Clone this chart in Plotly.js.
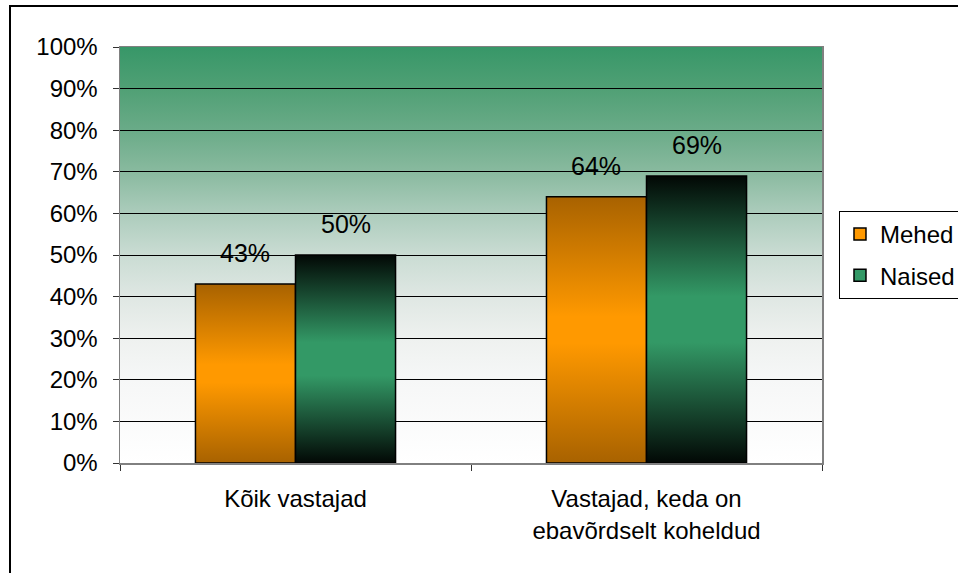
<!DOCTYPE html>
<html>
<head>
<meta charset="utf-8">
<script src="https://cdn.plot.ly/plotly-3.0.1.min.js"></script>
<style>
  body { margin: 0; background: #fff; overflow: hidden; }
  #chart { width: 958px; height: 573px; }
  /* raam ümber kogu joonise */
  #frame { position: absolute; left: 9px; top: 5px; width: 1000px; height: 1000px;
           border: 2px solid #000; pointer-events: none; }
</style>
</head>
<body>
<div id="chart"></div>
<div id="frame"></div>
<script>
const categories = ["Kõik vastajad", "Vastajad, keda on<br>ebavõrdselt koheldud"];
const seriesNames = ["Mehed", "Naised"];
const mehed = [0.43, 0.64];
const naised = [0.50, 0.69];
const yTicks = [0, 0.1, 0.2, 0.3, 0.4, 0.5, 0.6, 0.7, 0.8, 0.9, 1.0];

const font = "Liberation Sans, Arial, sans-serif";
const barGap = 0.43;
const half = (1 - barGap) / 4; // poole tulba nihe kategooria keskelt

function barTrace(name, values, color, group) {
  return {
    type: "bar",
    name: name,
    x: categories,
    y: values,
    legendgroup: group,
    marker: { color: color, line: { color: "#000", width: 1.5 } },
    hoverinfo: "skip",
  };
}

const traces = [
  barTrace(seriesNames[0], mehed, "#FF9900", "m"),
  barTrace(seriesNames[1], naised, "#339966", "n"),
];

// väärtuste sildid tulpade kohal
const annotations = [];
[mehed, naised].forEach((vals, s) => {
  vals.forEach((v, i) => {
    annotations.push({
      x: i + (s === 0 ? -half : half),
      y: v,
      text: Math.round(v * 100) + "%",
      showarrow: false,
      yanchor: "bottom",
      yshift: 15,
      font: { family: font, size: 25, color: "#000" },
    });
  });
});

const layout = {
  width: 958,
  height: 573,
  margin: { l: 120, r: 136, t: 47, b: 110, autoexpand: false },
  paper_bgcolor: "#fff",
  plot_bgcolor: "rgba(0,0,0,0)",
  barmode: "group",
  bargap: barGap,
  bargroupgap: 0,
  showlegend: true,
  font: { family: font, size: 24, color: "#000" },
  xaxis: {
    type: "category",
    showline: true,
    linecolor: "#808080",
    linewidth: 1.5,
    mirror: true,
    ticks: "outside",
    tickson: "boundaries",
    ticklen: 6,
    tickcolor: "#333",
    showgrid: false,
    ticklabelstandoff: 14,
    tickfont: { family: font, size: 24 },
  },
  yaxis: {
    range: [0, 1],
    tickvals: yTicks,
    tickformat: ".0%",
    showline: true,
    linecolor: "#808080",
    linewidth: 1.5,
    mirror: true,
    ticks: "outside",
    ticklen: 6,
    tickcolor: "#333",
    showgrid: true,
    gridcolor: "#000",
    gridwidth: 1,
    zeroline: false,
    ticklabelstandoff: 10,
    tickfont: { family: font, size: 24 },
  },
  legend: {
    x: 1.0242,
    xanchor: "left",
    y: 0.5,
    yanchor: "middle",
    bordercolor: "#000",
    borderwidth: 1,
    bgcolor: "#fff",
    tracegroupgap: 7,
    font: { family: font, size: 24 },
  },
  // joonisala taust, värvitakse hiljem gradiendiga
  shapes: [{
    type: "rect",
    xref: "x domain", yref: "y domain",
    x0: 0, x1: 1, y0: 0, y1: 1,
    layer: "below",
    line: { width: 0 },
    fillcolor: "#9fd0b6",
  }],
  annotations: annotations,
};

function addGradient(defs, id, stops) {
  const ns = "http://www.w3.org/2000/svg";
  const g = document.createElementNS(ns, "linearGradient");
  g.setAttribute("id", id);
  g.setAttribute("x1", "0"); g.setAttribute("y1", "0");
  g.setAttribute("x2", "0"); g.setAttribute("y2", "1");
  stops.forEach(([off, col]) => {
    const st = document.createElementNS(ns, "stop");
    st.setAttribute("offset", off);
    st.setAttribute("stop-color", col);
    g.appendChild(st);
  });
  defs.appendChild(g);
}

Plotly.newPlot("chart", traces, layout, { staticPlot: true }).then((gd) => {
  const defs = gd.querySelector("svg.main-svg defs");
  addGradient(defs, "gradBg", [
    ["0", "rgb(55,151,104)"], ["0.1", "rgb(80,160,117)"], ["0.2", "rgb(106,171,136)"],
    ["0.3", "rgb(137,186,159)"], ["0.4", "rgb(172,204,188)"], ["0.5", "rgb(202,220,211)"],
    ["0.6", "rgb(223,231,227)"], ["0.7", "rgb(238,241,239)"], ["0.8", "rgb(246,247,247)"],
    ["1", "#ffffff"],
  ]);
  addGradient(defs, "gradM", [["0", "#A86200"], ["0.45", "#FF9900"], ["0.55", "#FF9900"], ["1", "#A86200"]]);
  addGradient(defs, "gradN", [["0", "#020805"], ["0.42", "#339966"], ["0.58", "#339966"], ["1", "#020805"]]);

  gd.querySelectorAll(".shapelayer path").forEach((p) => {
    p.style.fill = "url(#gradBg)";
    p.style.fillOpacity = 1;
  });

  const barTraces = gd.querySelectorAll(".barlayer .trace");
  barTraces.forEach((t, k) => {
    t.querySelectorAll(".point path").forEach((p) => {
      p.style.fill = k === 0 ? "url(#gradM)" : "url(#gradN)";
    });
  });
});
</script>
</body>
</html>
